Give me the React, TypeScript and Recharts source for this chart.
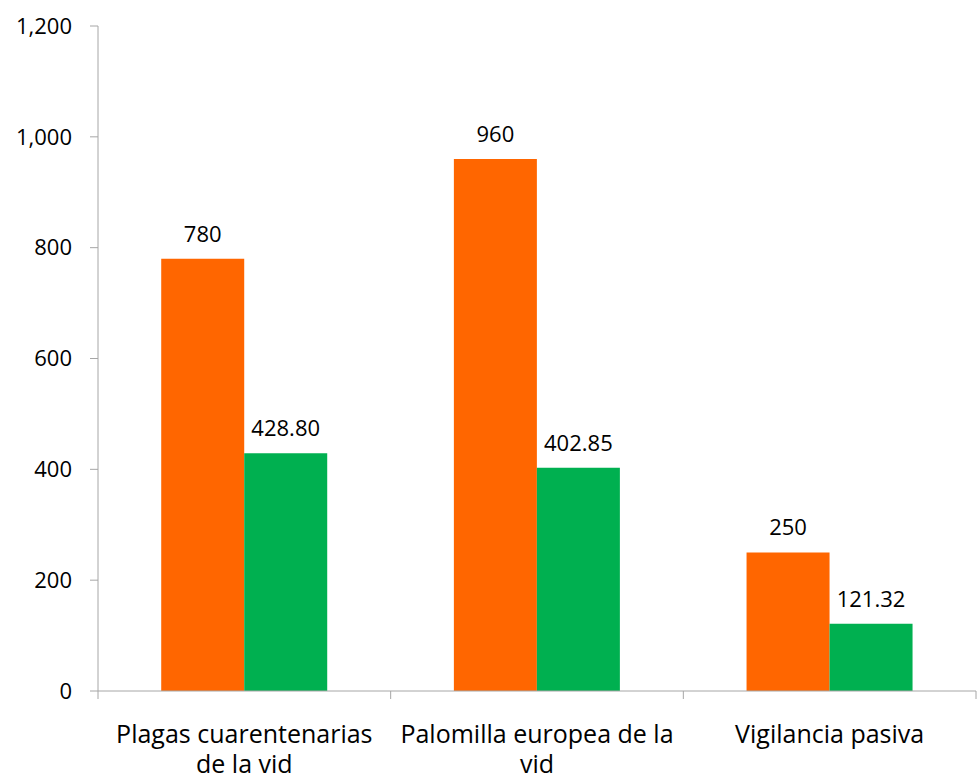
import { BarChart, Bar, XAxis, YAxis, LabelList } from 'recharts';

const categories = ['Plagas cuarentenarias de la vid', 'Palomilla europea de la vid', 'Vigilancia pasiva'];
const orangeValues = [780, 960, 250];
const greenValues = [428.8, 402.85, 121.32];
const yTicks = [0, 200, 400, 600, 800, 1000, 1200];

const data = categories.map((name, i) => ({
  name,
  orange: orangeValues[i],
  green: greenValues[i],
}));

const FONT = '"Open Sans", Lato, sans-serif';
const FONT_SIZE = 22;
const CAT_FONT_SIZE = 25;
const AXIS_COLOR = '#a6a6a6';

// split a label into lines no wider than maxWidth
function wrapLabel(label: string, maxWidth: number): string[] {
  const ctx = document.createElement('canvas').getContext('2d');
  if (!ctx) return [label];
  ctx.font = `${CAT_FONT_SIZE}px ${FONT}`;
  const lines: string[] = [];
  let current = '';
  for (const word of label.split(' ')) {
    const next = current ? current + ' ' + word : word;
    if (current && ctx.measureText(next).width > maxWidth) {
      lines.push(current);
      current = word;
    } else {
      current = next;
    }
  }
  if (current) lines.push(current);
  return lines;
}

function CategoryTick(props: any) {
  const { x, y, payload, index } = props;
  const half = payload && payload.offset ? payload.offset : 146.3;
  const lines = wrapLabel(String(payload.value), 282);
  return (
    <g>
      {index === 0 && <line x1={x - half} x2={x - half} y1={y - 8} y2={y} stroke={AXIS_COLOR} />}
      <line x1={x + half} x2={x + half} y1={y - 8} y2={y} stroke={AXIS_COLOR} />
      <text x={x} y={y + 44} textAnchor="middle" fontSize={CAT_FONT_SIZE} fontFamily={FONT} fill="#000">
        {lines.map((line, i) => (
          <tspan key={i} x={x} dy={i === 0 ? 0 : 30}>
            {line}
          </tspan>
        ))}
      </text>
    </g>
  );
}

export default function App() {
  return (
    <div style={{ position: 'absolute', left: 0, top: 0, background: '#fff' }}>
      <BarChart
        width={977}
        height={776}
        data={data}
        margin={{ top: 26, right: 1, bottom: 0, left: 0 }}
        barCategoryGap="21.6%"
        barGap={0}
      >
        <XAxis
          dataKey="name"
          height={85}
          axisLine={{ stroke: AXIS_COLOR }}
          tickLine={false}
          tick={<CategoryTick />}
          interval={0}
        />
        <YAxis
          width={98}
          domain={[0, 1200]}
          ticks={yTicks}
          interval={0}
          tickSize={8}
          tickMargin={18}
          axisLine={{ stroke: AXIS_COLOR }}
          tickLine={{ stroke: AXIS_COLOR }}
          tick={{ fontSize: FONT_SIZE, fontFamily: FONT, fill: '#000' }}
          tickFormatter={(v: number) => v.toLocaleString('en-US')}
        />
        <Bar dataKey="orange" fill="#ff6600" isAnimationActive={false}>
          <LabelList
            dataKey="orange"
            position="top"
            offset={17}
            fontSize={FONT_SIZE}
            fontFamily={FONT}
            fill="#000"
          />
        </Bar>
        <Bar dataKey="green" fill="#00b050" isAnimationActive={false}>
          <LabelList
            dataKey="green"
            position="top"
            offset={17}
            fontSize={FONT_SIZE}
            fontFamily={FONT}
            fill="#000"
            formatter={(v: any) => Number(v).toFixed(2)}
          />
        </Bar>
      </BarChart>
    </div>
  );
}
